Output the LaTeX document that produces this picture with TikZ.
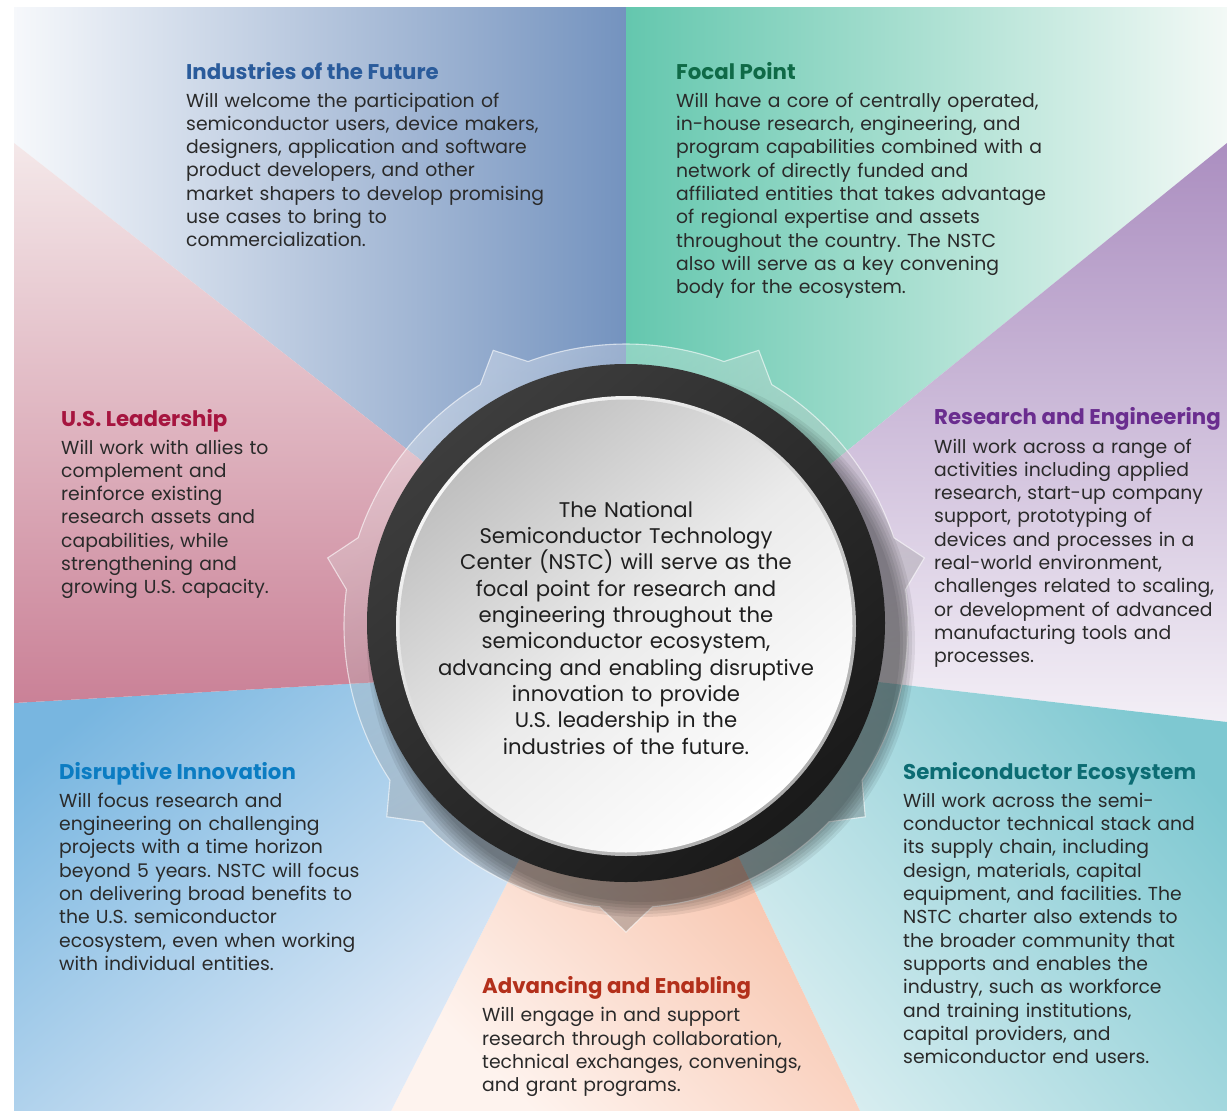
\documentclass[tikz,border=0pt]{standalone}
\usepackage{fontspec}
\setmainfont{Poppins}
\frenchspacing

% sector colours
\definecolor{indL}{HTML}{F6F8FB}
\definecolor{indR}{HTML}{7493BF}
\definecolor{focL}{HTML}{64C7AE}
\definecolor{focR}{HTML}{F3F9F6}
\definecolor{resT}{HTML}{AB8EC0}
\definecolor{resB}{HTML}{F3EFF6}
\definecolor{ecoT}{HTML}{7EC8D1}
\definecolor{ecoB}{HTML}{E3F2F4}
\definecolor{advT}{HTML}{F5B294}
\definecolor{advB}{HTML}{FEF3EE}
\definecolor{disT}{HTML}{78B6E0}
\definecolor{disB}{HTML}{EEF1FA}
\definecolor{leaT}{HTML}{F4E8E9}
\definecolor{leaB}{HTML}{CA8197}
% heading colours
\definecolor{hInd}{HTML}{2A5B9B}
\definecolor{hFoc}{HTML}{0F6A47}
\definecolor{hLea}{HTML}{A6153F}
\definecolor{hRes}{HTML}{6A2D8F}
\definecolor{hDis}{HTML}{0B7CC2}
\definecolor{hEco}{HTML}{0C6C73}
\definecolor{hAdv}{HTML}{B3301B}
\definecolor{bodytext}{HTML}{2A2A2A}

\begin{document}
\begin{tikzpicture}[x=1pt,y=-1pt,
  body/.style={anchor=base west, inner sep=0pt, align=left, text width=#1,
    font=\fontsize{18.8}{23.3}\selectfont, text=bodytext},
  head/.style={anchor=base west, inner sep=0pt,
    font=\fontsize{21.3}{24}\selectfont\bfseries},
  centertext/.style={anchor=base, inner sep=0pt, align=center, text width=440,
    font=\fontsize{21.2}{26.35}\selectfont, text=black!88},
  gear/.style={top color=white, middle color=white, bottom color=black!75,
    shading angle=25, fill opacity=0.3, draw=white, draw opacity=0.6, line width=1.1pt},
]
\useasboundingbox (0,0) rectangle (1227,1111);
\fill[white] (0,0) rectangle (1227,1111);

% ---- seven coloured sectors ----
\shade[left color=indL, right color=indR]
  (626,7) -- (14,7) -- (14,143) -- (626,620) -- cycle;
\shade[left color=focL, right color=focR]
  (626,7) -- (1227,7) -- (1227,143) -- (626,630) -- cycle;
\shade[top color=resT, bottom color=resB]
  (1227,143) -- (1227,722) -- (626,653) -- (626,630) -- cycle;
\shade[top color=ecoT, bottom color=ecoB, shading angle=-50]
  (1227,722) -- (1227,1111) -- (860,1111) -- (628,626) -- (626,653) -- cycle;
\shade[top color=advT, bottom color=advB, shading angle=-45]
  (860,1111) -- (391,1111) -- (638,626) -- (628,626) -- cycle;
\shade[top color=disT, bottom color=disB, shading angle=40]
  (391,1111) -- (14,1111) -- (14,703) -- (626,668) -- (638,626) -- cycle;
\shade[top color=leaT, bottom color=leaB]
  (14,703) -- (14,143) -- (626,620) -- (626,668) -- cycle;

% ---- translucent cog with seven teeth ----
\begin{scope}[shift={(626,626)}, y=1pt]
  \shadedraw[gear] ({12.857-5.4}:282)
    \foreach \k in {0,...,6} {
      -- ({12.857+51.4286*\k}:306)
      -- ({12.857+51.4286*\k+5.4}:282)
      arc[start angle={12.857+51.4286*\k+5.4}, end angle={12.857+51.4286*(\k+1)-5.4}, radius=282]
    } -- cycle;
\end{scope}

% ---- soft shadow cast by the ring, towards the lower right ----
\foreach \r in {259,262,...,274}
  \fill[black, opacity=0.07] (641,643) circle (\r);

% ---- dark ring and central disc ----
\shade[top color=black!76, bottom color=black!90, shading angle=40] (626,623) circle (259);
\shade[top color=black!3, bottom color=black!32, shading angle=40] (626,626) circle (230);
\shade[top color=black!25, bottom color=white, middle color=black!8, shading angle=40] (626,626) circle (226.5);

% ---- centre statement ----
\node[centertext] (hub) at (626,517) {The National\\
Semiconductor Technology\\
Center (NSTC) will serve as the\\
focal point for research and\\
engineering throughout the\\
semiconductor ecosystem,\\
advancing and enabling disruptive\\
innovation to provide\\
U.S. leadership in the\\
industries of the future.};

% ---- sector texts ----
\node[head, text=hInd] (indH) at (186,79) {Industries of the Future};
\node[body=400] (indB) at (186,107) {Will welcome the participation of\\
semiconductor users, device makers,\\
designers, application and software\\
product developers, and other\\
market shapers to develop promising\\
use cases to bring to\\
commercialization.};

\node[head, text=hFoc] (focH) at (676,79) {Focal Point};
\node[body=420] (focB) at (676,107.3) {Will have a core of centrally operated,\\
in-house research, engineering, and\\
program capabilities combined with a\\
network of directly funded and\\
affiliated entities that takes advantage\\
of regional expertise and assets\\
throughout the country. The NSTC\\
also will serve as a key convening\\
body for the ecosystem.};

\node[head, text=hLea] (leaH) at (61,426) {U.S. Leadership};
\node[body=290] (leaB) at (61,454) {Will work with allies to\\
complement and\\
reinforce existing\\
research assets and\\
capabilities, while\\
strengthening and\\
growing U.S. capacity.};

\node[head, text=hRes] (resH) at (934,424) {Research and Engineering};
\node[body=290] (resB) at (934,453) {Will work across a range of\\
activities including applied\\
research, start-up company\\
support, prototyping of\\
devices and processes in a\\
real-world environment,\\
challenges related to scaling,\\
or development of advanced\\
manufacturing tools and\\
processes.};

\node[head, text=hDis] (disH) at (59,779.3) {Disruptive Innovation};
\node[body=340] (disB) at (59,807.3) {Will focus research and\\
engineering on challenging\\
projects with a time horizon\\
beyond 5 years. NSTC will focus\\
on delivering broad benefits to\\
the U.S. semiconductor\\
ecosystem, even when working\\
with individual entities.};

\node[head, text=hEco] (ecoH) at (903,779) {Semiconductor Ecosystem};
\node[body=320] (ecoB) at (903,807.3) {Will work across the semi-\\
conductor technical stack and\\
its supply chain, including\\
design, materials, capital\\
equipment, and facilities. The\\
NSTC charter also extends to\\
the broader community that\\
supports and enables the\\
industry, such as workforce\\
and training institutions,\\
capital providers, and\\
semiconductor end users.};

\node[head, text=hAdv] (advH) at (482,993.3) {Advancing and Enabling};
\node[body=340] (advB) at (482,1021.7) {Will engage in and support\\
research through collaboration,\\
technical exchanges, convenings,\\
and grant programs.};
\end{tikzpicture}
\end{document}
